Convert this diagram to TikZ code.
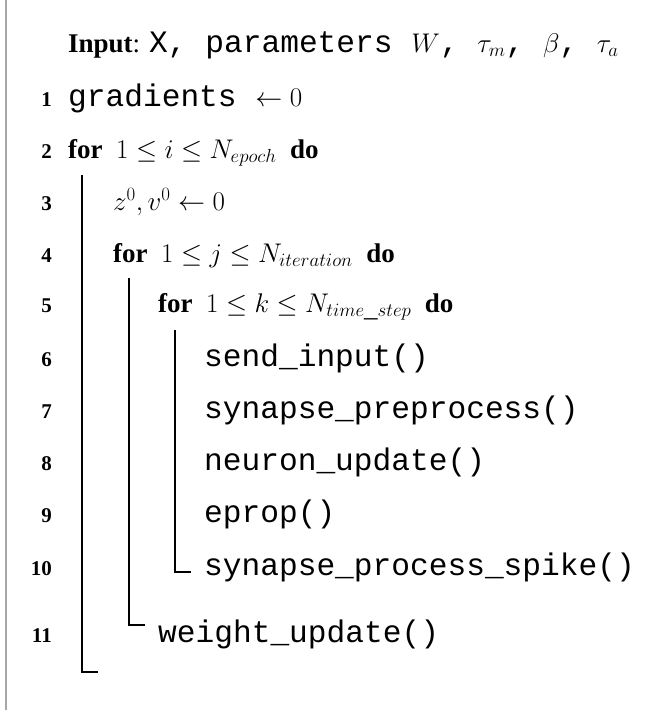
\documentclass[tikz,border=0pt]{standalone}
\usepackage{fix-cm}
\usepackage{fontspec}
\setmainfont{Liberation Serif}
\setmonofont{Liberation Mono}
\begin{document}
\begin{tikzpicture}[x=1pt,y=-1pt,
  txt/.style={anchor=base west,inner sep=0pt,font=\fontsize{27}{30}\selectfont},
  num/.style={anchor=base east,inner sep=0pt,font=\fontsize{21}{24}\selectfont\bfseries},
  bar/.style={line width=1.1pt}]
\useasboundingbox (0,0) rectangle (671,718);
\clip (0,0) rectangle (671,718);
\draw[gray!70,line width=2pt] (6,0) -- (6,710);
\newcommand{\mt}[1]{{\fontsize{31.2}{31}\selectfont\ttfamily #1}}
\node[txt] (in) at (68,52) {\textbf{Input}: \mt{X, parameters }$W$\mt{, }$\tau_m$\mt{, }$\beta$\mt{, }$\tau_a$};
\foreach \n/\y in {1/106,2/158,3/210,4/262,5/312,6/366,7/418,8/470,9/522,10/575,11/642}
  \node[num] (n\n) at (52,\y) {\n};
\node[txt] (l1) at (68,106) {\mt{gradients }$\leftarrow 0$};
\node[txt] (l2) at (68,158) {\textbf{for} \ $1\le i\le N_{epoch}$ \ \textbf{do}};
\node[txt] (l3) at (113,210) {$z^0,v^0\leftarrow 0$};
\node[txt] (l4) at (113,262) {\textbf{for} \ $1\le j\le N_{iteration}$ \ \textbf{do}};
\node[txt] (l5) at (158,312) {\textbf{for} \ $1\le k\le N_{time\_step}$ \ \textbf{do}};
\node[txt] (l6) at (204,366) {\mt{send\_input()}};
\node[txt] (l7) at (204,418) {\mt{synapse\_preprocess()}};
\node[txt] (l8) at (204,470) {\mt{neuron\_update()}};
\node[txt] (l9) at (204,522) {\mt{eprop()}};
\node[txt] (l10) at (204,575) {\mt{synapse\_process\_spike()}};
\node[txt] (l11) at (158,642) {\mt{weight\_update()}};
\draw[bar] (82,175) -- (82,672) -- (98,672);
\draw[bar] (129,278) -- (129,625) -- (145,625);
\draw[bar] (175,330) -- (175,572) -- (191,572);
\end{tikzpicture}
\end{document}
